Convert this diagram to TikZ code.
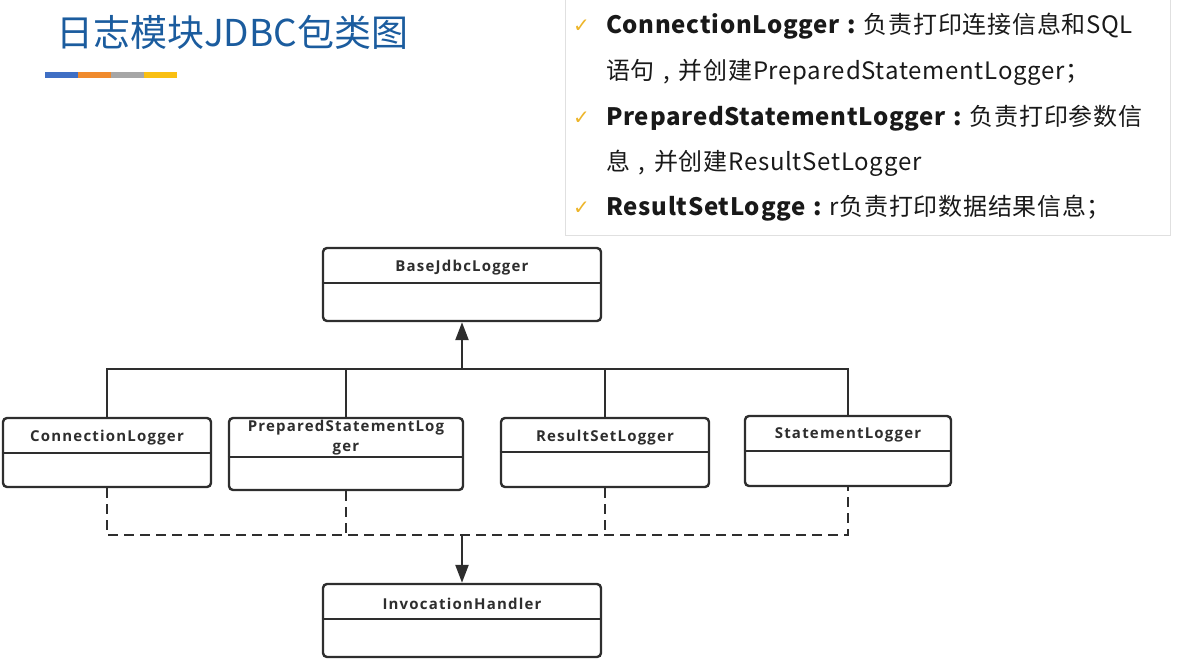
\documentclass[tikz,border=0pt]{standalone}
\usepackage{fontspec}
\usepackage{tikz}
\usetikzlibrary{calc,arrows.meta,positioning}
\newfontfamily\cjk{Noto Sans CJK SC}
\newfontfamily\cjkbody[LetterSpace=3]{Noto Sans CJK SC}
\newfontfamily\umlfont[LetterSpace=8]{Open Sans}
\newfontfamily\tickfont{DejaVu Sans}
\definecolor{titleblue}{HTML}{1B5C9E}
\definecolor{barblue}{HTML}{3F6FC4}
\definecolor{barorange}{HTML}{F08A2C}
\definecolor{bargray}{HTML}{A6A6A6}
\definecolor{baryellow}{HTML}{F9BF12}
\definecolor{umlgrey}{HTML}{2E2E2E}
\definecolor{tickyellow}{HTML}{EDB52A}
\newcommand{\ccolon}{\makebox[1em][c]{:}}
\newcommand{\ccomma}{\makebox[1em][c]{,}}

\begin{document}
\begin{tikzpicture}[x=1pt,y=-1pt]

\tikzset{classbox/.style={draw=umlgrey,line width=2.4pt,rounded corners=4pt,inner sep=0pt,fill=white},
classname/.style={font=\umlfont\bfseries\fontsize{15}{20}\selectfont,text=umlgrey,align=center,inner sep=0pt},
umlline/.style={draw=umlgrey,line width=2.4pt},
dashline/.style={draw=umlgrey,line width=2.2pt,dash pattern=on 10pt off 6pt},
inherit/.style={umlline,-{Triangle[length=18pt,width=13pt]}},
bodytext/.style={font=\cjkbody\fontsize{24}{28}\selectfont,text=black!90,anchor=base west,inner sep=0pt},
checkmark/.style={font=\tickfont\fontsize{20}{20}\selectfont,text=tickyellow,anchor=base west,inner sep=0pt}}

\useasboundingbox (0,0) rectangle (1178,668);

% Title and colour bar
\node[font=\cjk\fontsize{37}{40}\selectfont,text=titleblue,anchor=base west,inner sep=0pt] (title) at (56,47) {日志模块JDBC包类图};
\foreach \x/\c in {45/barblue,78/barorange,111/bargray,144/baryellow} \fill[\c] (\x,72) rectangle +(33,6);

% Notes panel
\draw[black!12,line width=1pt] (565,-2) rectangle (1170,236);
\foreach \y in {33,125,215} \node[checkmark] at (573,\y) {✓};
\node[bodytext] (n1) at (606,34) {\textbf{ConnectionLogger\ccolon}负责打印连接信息和SQL};
\node[bodytext] (n2) at (606,80) {语句\ccomma 并创建PreparedStatementLogger；};
\node[bodytext] (n3) at (606,126) {\textbf{PreparedStatementLogger\ccolon}负责打印参数信};
\node[bodytext] (n4) at (606,171) {息\ccomma 并创建ResultSetLogger};
\node[bodytext] (n5) at (606,216) {\textbf{ResultSetLogge\ccolon}r负责打印数据结果信息；};

% Class boxes
\foreach \n/\cx/\cy/\w/\h/\d/\l/\t in {
  base/462/284.5/278/73/36/21/BaseJdbcLogger,
  conn/107/452.5/208/69/36/21/ConnectionLogger,
  prep/346/454/234/72/40/21/{PreparedStatementLog\\ger},
  rs/605/452.5/208/69/35/21/ResultSetLogger,
  stmt/848/451/206/70/36/20/StatementLogger,
  inv/462/620.5/278/73/36/21/InvocationHandler} {
  \node[classbox,minimum width=\w pt,minimum height=\h pt] (\n) at (\cx,\cy) {};
  \draw[umlline] ($(\n.north west)+(0,\d)$) -- ($(\n.north east)+(0,\d)$);
  \node[classname] at ($(\n.north)+(0,\l)$) {\t};
}

% Inheritance edges
\coordinate (bus) at (462,369);
\draw[umlline] (conn.north) |- (stmt.north |- bus) -- (stmt.north);
\foreach \x in {prep,rs} \draw[umlline] (\x.north) -- (\x.north |- bus);
\draw[inherit] (bus) -- (base.south);

% Dashed edges
\coordinate (dbus) at (462,535);
\draw[dashline] (conn.south) |- (stmt.south |- dbus) -- (stmt.south);
\foreach \x in {prep,rs} \draw[dashline] (\x.south) -- (\x.south |- dbus);
\draw[inherit] (dbus) -- (inv.north);

\end{tikzpicture}
\end{document}
